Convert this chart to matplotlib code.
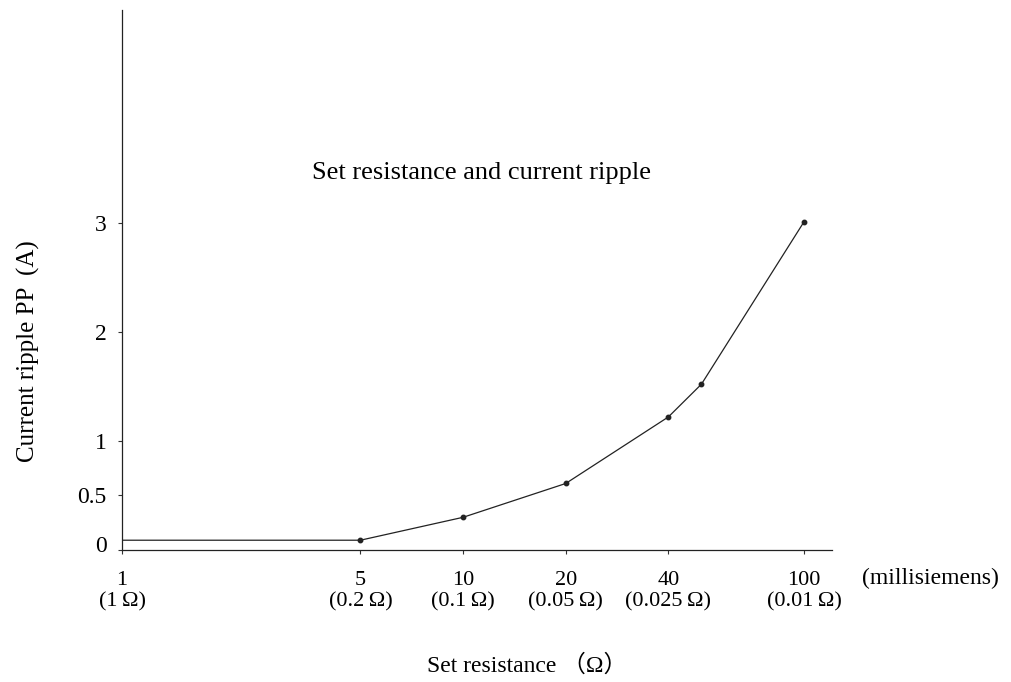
import matplotlib
matplotlib.use("Agg")
import matplotlib.pyplot as plt
import matplotlib.transforms as mtransforms

# data (millisiemens vs ripple in A)
conductance = [1, 5, 10, 20, 40, 50, 100]
ripple = [0.09, 0.09, 0.30, 0.61, 1.22, 1.52, 3.01]

xtick_vals = [1, 5, 10, 20, 40, 100]
xtick_labels = ["1\n(1\u2009\u03a9)", "5\n(0.2\u2009\u03a9)", "10\n(0.1\u2009\u03a9)",
                "20\n(0.05\u2009\u03a9)", "40\n(0.025\u2009\u03a9)", "100\n(0.01\u2009\u03a9)"]
ytick_vals = [0, 0.5, 1, 2, 3]
ytick_labels = ["0", "0.5", "1", "2", "3"]

plt.rcParams['font.family'] = ['Liberation Serif', 'DejaVu Serif']

fig = plt.figure(figsize=(10.12, 6.82), dpi=100)
ax = fig.add_axes([0.1206, 0.1935, 0.7016, 0.7918])

ax.plot(conductance, ripple, color="#222222", linewidth=0.9,
        marker="o", markersize=3.2, markevery=list(range(1, len(conductance))))

ax.set_xscale("log")
ax.set_xlim(1, 120.8)
ax.set_ylim(0, 4.95)

ax.set_xticks(xtick_vals)
ax.set_xticklabels(xtick_labels, fontsize=16, linespacing=1.2)
ax.minorticks_off()
ax.set_yticks(ytick_vals)
ax.set_yticklabels(ytick_labels, fontsize=17)
ax.tick_params(axis="both", direction="out", length=3, width=0.8, color="#333333")
ax.tick_params(axis="x", pad=12)
ax.tick_params(axis="y", pad=8)

# "0" label sits a little above the axis line in the original
lbl0 = ax.get_yticklabels()[0]
lbl0.set_transform(lbl0.get_transform() + mtransforms.ScaledTranslation(0, 0.06, fig.dpi_scale_trans))

for s in ("top", "right"):
    ax.spines[s].set_visible(False)
for s in ("left", "bottom"):
    ax.spines[s].set_linewidth(0.9)
    ax.spines[s].set_color("#222222")

fig.text(482 / 1012, 1 - 173 / 682, "Set resistance and current ripple", fontsize=19,
         ha="center", va="center")
fig.text(862 / 1012, 1 - 578 / 682, "(millisiemens)", fontsize=17, ha="left", va="center")
fig.text(527 / 1012, 1 - 665 / 682, "Set resistance \uff08\u03a9\uff09", fontsize=17,
         ha="center", va="center",
         family=['Liberation Serif', 'Noto Sans CJK JP', 'DejaVu Serif'])
fig.text(28 / 1012, 1 - 351 / 682, "Current ripple PP  (A)", fontsize=18,
         rotation=90, ha="center", va="center")

fig.savefig("out.png", dpi=100)
